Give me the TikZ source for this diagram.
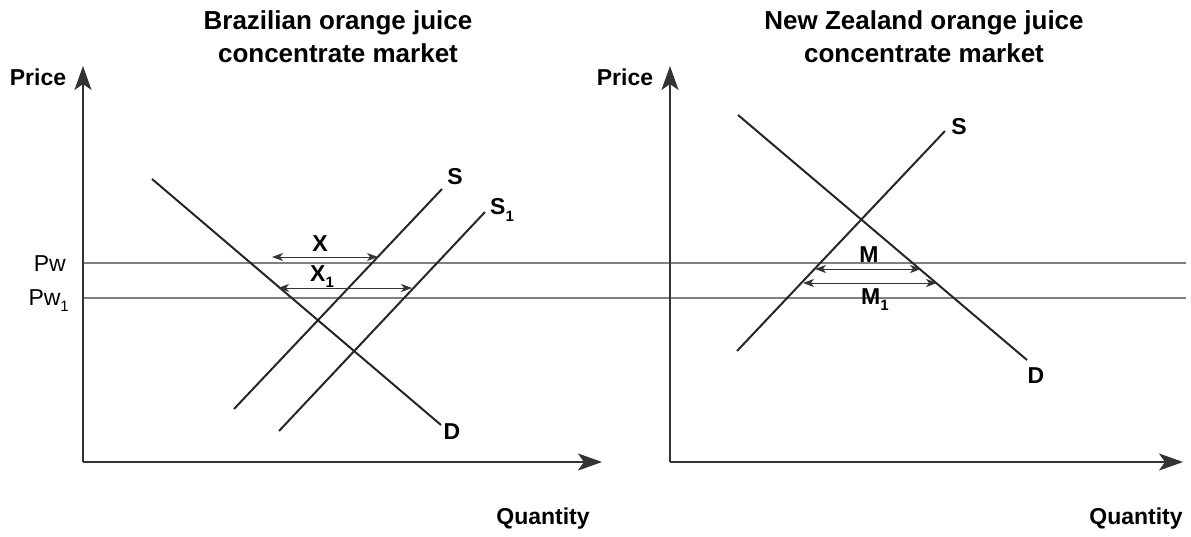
\documentclass[tikz,border=0pt]{standalone}
\usepackage{fontspec}
\setmainfont{Liberation Sans}
\usetikzlibrary{arrows.meta}
\newcommand\mysub[1]{\raisebox{-0.5ex}{\fontsize{15}{15}\selectfont #1}}
\tikzset{
  axis/.style={draw=black!80, line width=2.4pt, -{Stealth[length=24pt,width=17pt,inset=6pt]}},
  curve/.style={draw=black!85, line width=2pt},
  pline/.style={draw=black!50, line width=1.5pt},
  span/.style={draw=black!80, line width=1pt, {Stealth[length=11pt,width=8pt,inset=3pt]}-{Stealth[length=11pt,width=8pt,inset=3pt]}},
  lbl/.style={font=\fontsize{23}{23}\selectfont\bfseries, inner sep=0pt},
  plbl/.style={font=\fontsize{23}{23}\selectfont, inner sep=0pt},
  ttl/.style={font=\fontsize{26}{33}\selectfont\bfseries, align=center, inner sep=0pt}
}
\begin{document}
\begin{tikzpicture}[x=1pt,y=-1pt]
\useasboundingbox (0,0) rectangle (1191,536);
% axes
\coordinate (oL) at (83,462);
\coordinate (yL) at (83,66);
\coordinate (xL) at (602,462);
\coordinate (oR) at (670,462);
\coordinate (yR) at (670,66);
\coordinate (xR) at (1183,462);
% price lines
\coordinate (pwA) at (83,263);
\coordinate (pwB) at (1186,263);
\coordinate (pw1A) at (83,298);
\coordinate (pw1B) at (1186,298);
\draw[pline] (pwA) -- (pwB);
\draw[pline] (pw1A) -- (pw1B);
\draw[axis] (oL) -- (yL);
\draw[axis] (oL) -- (xL);
\draw[axis] (oR) -- (yR);
\draw[axis] (oR) -- (xR);
% left curves
\coordinate (dL1) at (152,179);
\coordinate (dL2) at (441,425);
\coordinate (sL1) at (234,409);
\coordinate (sL2) at (442,189);
\coordinate (s1L1) at (279,431);
\coordinate (s1L2) at (485,212);
\draw[curve] (dL1) -- (dL2);
\draw[curve] (sL1) -- (sL2);
\draw[curve] (s1L1) -- (s1L2);
% right curves
\coordinate (dR1) at (738,115);
\coordinate (dR2) at (1027,360);
\coordinate (sR1) at (737,351);
\coordinate (sR2) at (945,131);
\draw[curve] (dR1) -- (dR2);
\draw[curve] (sR1) -- (sR2);
% spans
\coordinate (xa) at (272,257);
\coordinate (xb) at (378,257);
\coordinate (x1a) at (278,288);
\coordinate (x1b) at (412,288);
\coordinate (ma) at (815,269);
\coordinate (mb) at (921,269);
\coordinate (m1a) at (803,283);
\coordinate (m1b) at (937,283);
\draw[span] (xa) -- (xb);
\draw[span] (x1a) -- (x1b);
\draw[span] (ma) -- (mb);
\draw[span] (m1a) -- (m1b);
% labels
\node[ttl] (t1) at (338,37) {Brazilian orange juice\\concentrate market};
\node[ttl] (t2) at (924,37) {New Zealand orange juice\\concentrate market};
\node[lbl] (pL) at (38,77) {Price};
\node[lbl] (pR) at (625,77) {Price};
\node[lbl] (qL) at (543,519) {Quantity};
\node[lbl] (qR) at (1136,519) {Quantity};
\node[plbl, anchor=east] (pw) at (66,264) {Pw};
\node[plbl, anchor=east] (pw1) at (69,301) {Pw\mysub{1}};
\node[lbl] (lS) at (455,177) {S};
\node[lbl, anchor=west] (lS1) at (490,210) {S\mysub{1}};
\node[lbl] (lD) at (452,432) {D};
\node[lbl] (lX) at (320,244) {X};
\node[lbl, anchor=west] (lX1) at (310,277) {X\mysub{1}};
\node[lbl] (rS) at (959,127) {S};
\node[lbl] (rD) at (1036,376) {D};
\node[lbl] (rM) at (869,255) {M};
\node[lbl, anchor=west] (rM1) at (861,300) {M\mysub{1}};
\end{tikzpicture}
\end{document}
